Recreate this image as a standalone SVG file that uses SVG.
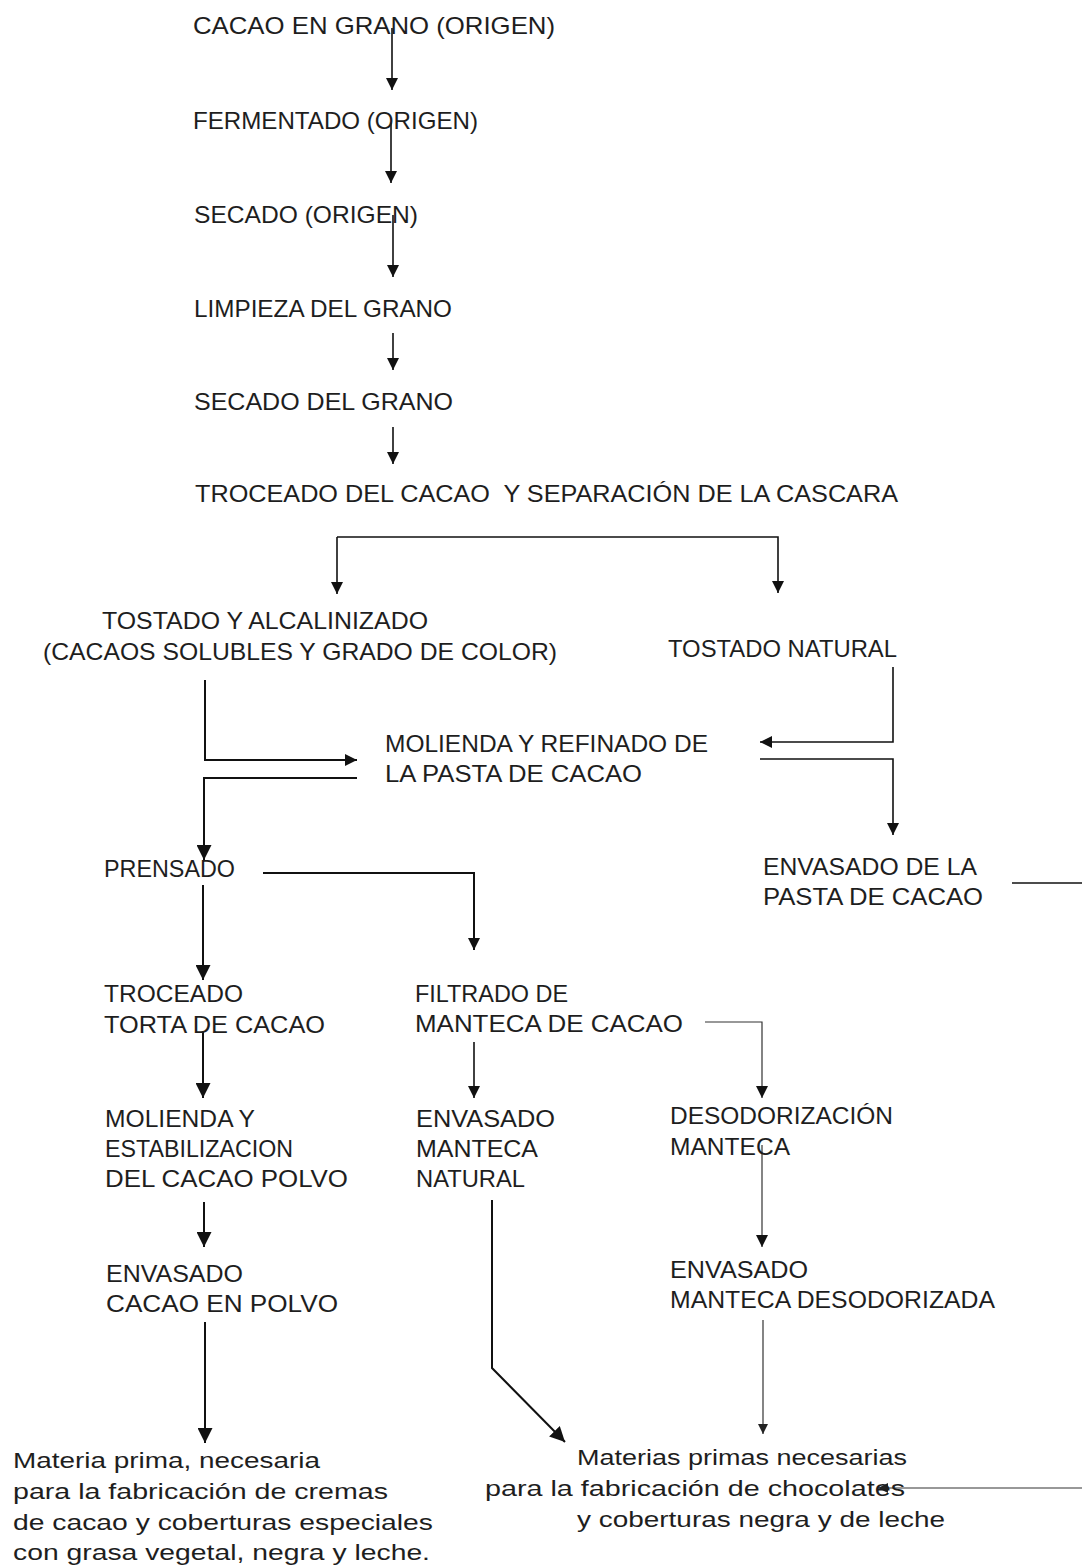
<svg xmlns="http://www.w3.org/2000/svg" width="1082" height="1567" viewBox="0 0 1082 1567">
<defs>
<style>
text{font-family:"Liberation Sans",Arial,sans-serif;font-size:24px;fill:#1e1e1e}
text.lc{font-size:22.5px}
.c{fill:none;stroke:#111;stroke-width:1.6;stroke-linecap:butt}
.b{stroke-width:2}
.t{stroke-width:1.2;stroke:#333}
</style>
<marker id="ab" viewBox="0 0 10 10" refX="10" refY="5" markerWidth="16" markerHeight="15" markerUnits="userSpaceOnUse" orient="auto"><path d="M0,0 L10,5 L0,10 z" fill="#111"/></marker>
<marker id="am" viewBox="0 0 10 10" refX="10" refY="5" markerWidth="13" markerHeight="12" markerUnits="userSpaceOnUse" orient="auto"><path d="M0,0 L10,5 L0,10 z" fill="#111"/></marker>
<marker id="as" viewBox="0 0 10 10" refX="10" refY="5" markerWidth="11" markerHeight="10" markerUnits="userSpaceOnUse" orient="auto"><path d="M0,0 L10,5 L0,10 z" fill="#222"/></marker>
</defs>
<rect width="1082" height="1567" fill="#fff"/>
<g id="connectors">
<path class="c" d="M392,28 V90" marker-end="url(#am)"/>
<path class="c" d="M391,123 V183" marker-end="url(#am)"/>
<path class="c" d="M393,215 V277" marker-end="url(#am)"/>
<path class="c" d="M393,333 V370" marker-end="url(#am)"/>
<path class="c" d="M393,427 V464" marker-end="url(#am)"/>
<path class="c" d="M337,537 H778 V593" marker-end="url(#am)"/>
<path class="c" d="M337,537 V594" marker-end="url(#am)"/>
<path class="c b" d="M205,680 V760 H357" marker-end="url(#am)"/>
<path class="c" d="M893,667 V742 H760" marker-end="url(#am)"/>
<path class="c b" d="M357,778 H204 V860" marker-end="url(#ab)"/>
<path class="c" d="M760,759 H893 V835" marker-end="url(#am)"/>
<path class="c" d="M1012,883 H1082"/>
<path class="c b" d="M203,885 V980" marker-end="url(#ab)"/>
<path class="c b" d="M263,873 H474 V950" marker-end="url(#am)"/>
<path class="c b" d="M203,1032 V1098" marker-end="url(#ab)"/>
<path class="c" d="M474,1042 V1098" marker-end="url(#am)"/>
<path class="c t" d="M705,1022 H762 V1098" marker-end="url(#am)"/>
<path class="c b" d="M204,1202 V1247" marker-end="url(#ab)"/>
<path class="c t" d="M762,1145 V1247" marker-end="url(#am)"/>
<path class="c b" d="M205,1322 V1443" marker-end="url(#ab)"/>
<path class="c b" d="M492,1200 V1368 L565,1442" marker-end="url(#ab)"/>
<path class="c t" d="M763,1320 V1434" marker-end="url(#as)"/>
<path class="c t" d="M1082,1488 H878" marker-end="url(#as)"/>
</g>
<g id="n1"><text x="193" y="34" textLength="362" lengthAdjust="spacingAndGlyphs">CACAO EN GRANO (ORIGEN)</text></g>
<g id="n2"><text x="193" y="129" textLength="285" lengthAdjust="spacingAndGlyphs">FERMENTADO (ORIGEN)</text></g>
<g id="n3"><text x="194" y="223" textLength="224" lengthAdjust="spacingAndGlyphs">SECADO (ORIGEN)</text></g>
<g id="n4"><text x="194" y="317" textLength="258" lengthAdjust="spacingAndGlyphs">LIMPIEZA DEL GRANO</text></g>
<g id="n5"><text x="194" y="410" textLength="259" lengthAdjust="spacingAndGlyphs">SECADO DEL GRANO</text></g>
<g id="n6"><text x="195" y="502" textLength="703" lengthAdjust="spacingAndGlyphs" xml:space="preserve">TROCEADO DEL CACAO  Y SEPARACIÓN DE LA CASCARA</text></g>
<g id="n7"><text x="102" y="629" textLength="326" lengthAdjust="spacingAndGlyphs">TOSTADO Y ALCALINIZADO</text><text x="43" y="660" textLength="514" lengthAdjust="spacingAndGlyphs">(CACAOS SOLUBLES Y GRADO DE COLOR)</text></g>
<g id="n8"><text x="668" y="657" textLength="229" lengthAdjust="spacingAndGlyphs">TOSTADO NATURAL</text></g>
<g id="n9"><text x="385" y="752" textLength="323" lengthAdjust="spacingAndGlyphs">MOLIENDA Y REFINADO DE</text><text x="385" y="782" textLength="257" lengthAdjust="spacingAndGlyphs">LA PASTA DE CACAO</text></g>
<g id="n10"><text x="104" y="877" textLength="131" lengthAdjust="spacingAndGlyphs">PRENSADO</text></g>
<g id="n11"><text x="763" y="875" textLength="214" lengthAdjust="spacingAndGlyphs">ENVASADO DE LA</text><text x="763" y="905" textLength="220" lengthAdjust="spacingAndGlyphs">PASTA DE CACAO</text></g>
<g id="n12"><text x="104" y="1002" textLength="139" lengthAdjust="spacingAndGlyphs">TROCEADO</text><text x="104" y="1033" textLength="221" lengthAdjust="spacingAndGlyphs">TORTA DE CACAO</text></g>
<g id="n13"><text x="415" y="1002" textLength="153" lengthAdjust="spacingAndGlyphs">FILTRADO DE</text><text x="415" y="1032" textLength="268" lengthAdjust="spacingAndGlyphs">MANTECA DE CACAO</text></g>
<g id="n14"><text x="105" y="1127" textLength="150" lengthAdjust="spacingAndGlyphs">MOLIENDA Y</text><text x="105" y="1157" textLength="188" lengthAdjust="spacingAndGlyphs">ESTABILIZACION</text><text x="105" y="1187" textLength="243" lengthAdjust="spacingAndGlyphs">DEL CACAO POLVO</text></g>
<g id="n15"><text x="416" y="1127" textLength="139" lengthAdjust="spacingAndGlyphs">ENVASADO</text><text x="416" y="1157" textLength="122" lengthAdjust="spacingAndGlyphs">MANTECA</text><text x="416" y="1187" textLength="109" lengthAdjust="spacingAndGlyphs">NATURAL</text></g>
<g id="n16"><text x="670" y="1124" textLength="223" lengthAdjust="spacingAndGlyphs">DESODORIZACIÓN</text><text x="670" y="1155" textLength="120" lengthAdjust="spacingAndGlyphs">MANTECA</text></g>
<g id="n17"><text x="106" y="1282" textLength="137" lengthAdjust="spacingAndGlyphs">ENVASADO</text><text x="106" y="1312" textLength="232" lengthAdjust="spacingAndGlyphs">CACAO EN POLVO</text></g>
<g id="n18"><text x="670" y="1278" textLength="138" lengthAdjust="spacingAndGlyphs">ENVASADO</text><text x="670" y="1308" textLength="325" lengthAdjust="spacingAndGlyphs">MANTECA DESODORIZADA</text></g>
<g id="n19"><text class="lc" x="13" y="1468" textLength="307" lengthAdjust="spacingAndGlyphs">Materia prima, necesaria</text><text class="lc" x="13" y="1499" textLength="375" lengthAdjust="spacingAndGlyphs">para la fabricación de cremas</text><text class="lc" x="13" y="1530" textLength="420" lengthAdjust="spacingAndGlyphs">de cacao y coberturas especiales</text><text class="lc" x="13" y="1560" textLength="417" lengthAdjust="spacingAndGlyphs">con grasa vegetal, negra y leche.</text></g>
<g id="n20"><text class="lc" x="577" y="1465" textLength="330" lengthAdjust="spacingAndGlyphs">Materias primas necesarias</text><text class="lc" x="485" y="1496" textLength="420" lengthAdjust="spacingAndGlyphs">para la fabricación de chocolates</text><text class="lc" x="577" y="1527" textLength="368" lengthAdjust="spacingAndGlyphs">y coberturas negra y de leche</text></g>
</svg>
